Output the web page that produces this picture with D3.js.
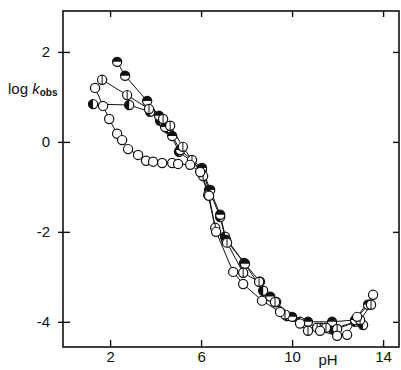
<!DOCTYPE html>
<html>
<head>
<meta charset="utf-8">
<script src="https://cdn.jsdelivr.net/npm/d3@7"></script>
<style>
  body { margin: 0; background: #fff; }
  svg { display: block; }
  text { font-family: "Liberation Sans", "DejaVu Sans", sans-serif; fill: #111; }
</style>
</head>
<body>
<svg id="chart" width="401" height="370"></svg>
<script>
// pH / log k_obs readings, one pair of arrays per marker style
const openPH = [1.34, 1.69, 1.96, 2.31, 2.53, 2.79, 3.23, 3.58, 3.89, 4.29, 4.73, 4.99, 5.52, 5.96, 6.35, 6.66, 7.41, 7.85, 8.68, 9.47, 10.35, 11.23, 11.98, 12.42, 12.86, 13.56];
const openLogK = [1.20, 0.80, 0.51, 0.18, 0.04, -0.16, -0.29, -0.42, -0.44, -0.47, -0.47, -0.49, -0.51, -0.67, -1.20, -2.00, -2.89, -3.16, -3.53, -3.78, -4.04, -4.20, -4.31, -4.29, -3.89, -3.40];

const leftPH = [1.25, 2.84, 3.76, 4.20, 4.55, 5.03, 6.04, 6.35, 6.84, 7.05, 7.89, 8.73, 9.30, 9.78, 10.35, 11.27, 11.80, 12.77, 13.12];
const leftLogK = [0.84, 0.82, 0.67, 0.47, 0.29, -0.22, -0.62, -1.07, -1.67, -2.11, -2.69, -3.31, -3.56, -3.87, -4.00, -4.13, -4.16, -4.00, -4.07];

const topPH = [2.31, 2.66, 3.63, 4.15, 4.42, 4.73, 5.08, 6.04, 6.40, 6.84, 7.10, 7.93, 8.59, 9.04, 10.00, 10.70, 11.76, 12.77, 13.34];
const topLogK = [1.78, 1.47, 0.91, 0.58, 0.33, 0.13, -0.18, -0.58, -1.07, -1.62, -2.18, -2.71, -3.11, -3.44, -3.89, -4.00, -4.00, -3.96, -3.62];

const barPH = [1.65, 2.75, 3.71, 4.33, 4.64, 5.20, 5.60, 6.09, 6.31, 6.62, 7.14, 7.85, 8.55, 9.25, 9.69, 10.70, 11.10, 11.49, 11.98, 12.99, 13.47];
const barLogK = [1.38, 1.04, 0.73, 0.51, 0.36, -0.11, -0.40, -0.76, -1.18, -1.91, -2.24, -2.91, -3.11, -3.56, -3.84, -4.20, -4.13, -4.13, -4.16, -3.96, -3.62];

const xTicks = [2, 6, 10, 14];
const yTicks = [2, 0, -2, -4];

const svg = d3.select('#chart');
const m = {left: 63, right: 399, top: 11, bottom: 347};

const x = d3.scaleLinear().domain([-0.07, 14.7]).range([m.left, m.right]);
const y = d3.scaleLinear().domain([-4.56, 2.91]).range([m.bottom, m.top]);

// frame
svg.append('rect')
  .attr('x', m.left).attr('y', m.top)
  .attr('width', m.right - m.left).attr('height', m.bottom - m.top)
  .attr('fill', 'none').attr('stroke', '#111').attr('stroke-width', 1.6);

const fmt = d => d < 0 ? '-' + Math.abs(d) : String(d);

// bottom axis, ticks inward
const gx = svg.append('g')
  .attr('transform', 'translate(0,' + m.bottom + ')')
  .call(d3.axisBottom(x).tickValues(xTicks).tickSizeInner(-7).tickSizeOuter(0).tickPadding(4).tickFormat(fmt));
gx.select('.domain').remove();
gx.selectAll('line').attr('stroke', '#111').attr('stroke-width', 1.4);
gx.selectAll('text').style('font-size', '15px');

// top axis
const gt = svg.append('g')
  .attr('transform', 'translate(0,' + m.top + ')')
  .call(d3.axisTop(x).tickValues(xTicks).tickSizeInner(-6).tickSizeOuter(0).tickFormat(''));
gt.select('.domain').remove();
gt.selectAll('line').attr('stroke', '#111').attr('stroke-width', 1.4);

// left axis, ticks cross the line
const gy = svg.append('g')
  .attr('transform', 'translate(' + m.left + ',0)')
  .call(d3.axisLeft(y).tickValues(yTicks).tickSizeInner(-7).tickSizeOuter(0).tickPadding(13).tickFormat(fmt));
gy.select('.domain').remove();
gy.selectAll('line').attr('x1', -5).attr('stroke', '#111').attr('stroke-width', 1.4);
gy.selectAll('text').style('font-size', '15px');

// right axis
const gr = svg.append('g')
  .attr('transform', 'translate(' + m.right + ',0)')
  .call(d3.axisRight(y).tickValues(yTicks).tickSizeInner(-6).tickSizeOuter(0).tickFormat(''));
gr.select('.domain').remove();
gr.selectAll('line').attr('stroke', '#111').attr('stroke-width', 1.4);

// axis titles
const yl = svg.append('text').attr('x', 8).attr('y', 94).style('font-size', '15px');
yl.append('tspan').text('log ');
yl.append('tspan').style('font-style', 'italic').text('k');
yl.append('tspan').attr('dy', 2).style('font-size', '10px').style('font-weight', 'bold').text('obs');

svg.append('text').attr('x', 328).attr('y', 365)
  .attr('text-anchor', 'middle').style('font-size', '15px').text('pH');

// series
const series = [
  {ph: leftPH, lk: leftLogK, kind: 'left'},
  {ph: topPH, lk: topLogK, kind: 'top'},
  {ph: barPH, lk: barLogK, kind: 'bar'},
  {ph: openPH, lk: openLogK, kind: 'open'}
];

const line = d3.line().x(d => x(d[0])).y(d => y(d[1]));
const r = 4.6;

series.forEach(s => {
  const pts = s.ph.map((p, i) => [p, s.lk[i]]);
  svg.append('path')
    .datum(pts)
    .attr('d', line)
    .attr('fill', 'none').attr('stroke', '#111').attr('stroke-width', 1);
});

series.forEach(s => {
  const pts = s.ph.map((p, i) => [p, s.lk[i]]);
  const g = svg.append('g').selectAll('g')
    .data(pts).enter().append('g')
    .attr('transform', d => 'translate(' + x(d[0]) + ',' + y(d[1]) + ')');
  g.append('circle').attr('r', r).attr('fill', '#fff');
  if (s.kind === 'top') {
    g.append('path').attr('d', 'M' + (-r) + ',0A' + r + ',' + r + ' 0 0 1 ' + r + ',0Z').attr('fill', '#111');
  } else if (s.kind === 'left') {
    g.append('path').attr('d', 'M0,' + (-r) + 'A' + r + ',' + r + ' 0 0 0 0,' + r + 'Z').attr('fill', '#111');
  } else if (s.kind === 'bar') {
    g.append('line').attr('y1', -r).attr('y2', r).attr('stroke', '#111').attr('stroke-width', 1);
  }
  g.append('circle').attr('r', r).attr('fill', 'none').attr('stroke', '#111').attr('stroke-width', 1.2);
});
</script>
</body>
</html>
